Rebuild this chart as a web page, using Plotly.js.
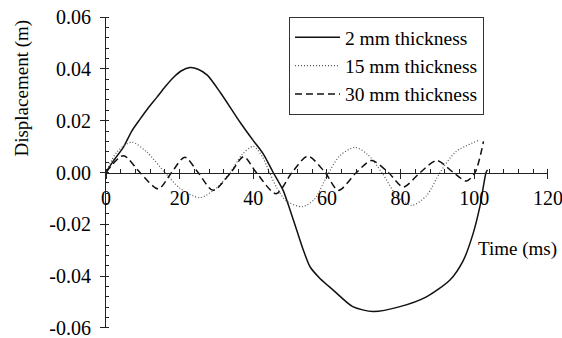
<!DOCTYPE html>
<html>
<head>
<meta charset="utf-8">
<script src="https://cdn.plot.ly/plotly-3.0.1.min.js"></script>
<style>html,body{margin:0;padding:0;background:#fff;}#chart{width:562px;height:338px;}</style>
</head>
<body>
<div id="chart"></div>
<script>
// 2 mm thickness
var t2 = [0, 2, 4.7, 7, 9.2, 11.5, 13.8, 16, 18.3, 20.5, 22.8, 25, 27.5, 31, 36.4, 40, 42.7, 45.4, 48.1, 50, 51.8, 53.6, 55.4, 58.1, 61.7, 67, 72.5, 79.8, 87, 93.4, 97, 99.7, 101.5, 103.2, 103.6];
var d2 = [0, 0.0045, 0.0097, 0.016, 0.0205, 0.025, 0.029, 0.033, 0.0367, 0.0393, 0.0405, 0.0399, 0.0376, 0.031, 0.0194, 0.0123, 0.0072, 0, -0.0069, -0.0146, -0.0223, -0.03, -0.0364, -0.0409, -0.0454, -0.0518, -0.0537, -0.0518, -0.048, -0.0415, -0.034, -0.0235, -0.0133, 0, 0.001];
// 15 mm thickness
var t15 = [0, 3, 7, 11, 16, 20, 25.5, 30, 33.7, 37, 40, 42.5, 44.4, 46.3, 49, 53.3, 56.5, 60.5, 63.5, 67.6, 71, 74.9, 79, 83, 87, 90.7, 95, 101];
var d15 = [0, 0.008, 0.0117, 0.008, 0, -0.006, -0.0097, -0.006, 0, 0.007, 0.0101, 0.006, 0, -0.0057, -0.011, -0.0132, -0.0105, 0, 0.0065, 0.0097, 0.007, 0, -0.009, -0.0127, -0.009, 0, 0.008, 0.0123];
// 30 mm thickness
var t30 = [0, 4.7, 9.2, 14.2, 17.8, 21.4, 25, 29.1, 33.9, 37.4, 40.8, 46.2, 50.5, 54.8, 59.5, 63.1, 68, 72.1, 76.7, 80.7, 85.3, 89.8, 94.3, 97.9, 100.2, 102.5];
var d30 = [0, 0.0065, 0, -0.0063, 0, 0.0059, 0, -0.0069, 0, 0.0061, 0, -0.0082, 0, 0.0063, 0, -0.0069, 0, 0.0046, 0, -0.0056, 0, 0.0046, 0, -0.0033, 0, 0.012];

var seriesNames = ['2 mm thickness', '15 mm thickness', '30 mm thickness'];
var xTickVals = [0, 20, 40, 60, 80, 100, 120];
var xTickText = ['0', '20', '40', '60', '80', '100', '120'];
var yTickVals = [-0.06, -0.04, -0.02, 0, 0.02, 0.04, 0.06];
var yTickText = ['-0.06', '-0.04', '-0.02', '0.00', '0.02', '0.04', '0.06'];

var FONT = 'Liberation Serif';

var traces = [
  {x: t2, y: d2, name: seriesNames[0], mode: 'lines', line: {color: '#111', width: 1.5, shape: 'spline', smoothing: 0.7}},
  {x: t15, y: d15, name: seriesNames[1], mode: 'lines', line: {color: '#555', width: 1.2, dash: '1px,2px', shape: 'spline', smoothing: 0.8}},
  {x: t30, y: d30, name: seriesNames[2], mode: 'lines', line: {color: '#111', width: 1.5, dash: '7px,4px', shape: 'spline', smoothing: 0.8}}
];

var layout = {
  width: 562, height: 338,
  margin: {l: 106, r: 14, t: 17, b: 10},
  paper_bgcolor: '#fff', plot_bgcolor: '#fff',
  font: {family: FONT, size: 19, color: '#000'},
  showlegend: true,
  legend: {x: 0.414, y: 1, xanchor: 'left', yanchor: 'top', bgcolor: '#fff', bordercolor: '#333', borderwidth: 1, itemwidth: 45, font: {family: FONT, size: 19.5, color: '#000'}, tracegroupgap: 0},
  xaxis: {
    range: [0, 120.02], anchor: 'free', position: 0.5,
    showgrid: false, zeroline: false, showline: true, linecolor: '#222', linewidth: 1,
    tickmode: 'array', tickvals: xTickVals, ticktext: xTickText,
    ticks: 'outside', ticklen: 5, tickcolor: '#222', tickwidth: 1,
    ticklabeloverflow: 'allow', ticklabelstandoff: 2,
    tickfont: {family: FONT, size: 20, color: '#000'},
    minor: {tickmode: 'linear', tick0: 0, dtick: 4, ticks: 'inside', ticklen: 4, tickcolor: '#222', tickwidth: 1, showgrid: false}
  },
  yaxis: {
    range: [-0.06005, 0.06005],
    showgrid: false, zeroline: false, showline: true, linecolor: '#222', linewidth: 1,
    tickmode: 'array', tickvals: yTickVals, ticktext: yTickText,
    ticks: 'outside', ticklen: 5, tickcolor: '#222', tickwidth: 1,
    ticklabeloverflow: 'allow', ticklabelstandoff: 5,
    tickfont: {family: FONT, size: 20, color: '#000'},
    minor: {tickmode: 'linear', tick0: 0, dtick: 0.004, ticks: 'inside', ticklen: 3, tickcolor: '#222', tickwidth: 1, showgrid: false}
  },
  annotations: [
    {text: 'Displacement (m)', xref: 'paper', yref: 'paper', x: -0.19, y: 0.77, xanchor: 'center', yanchor: 'middle', textangle: -90, showarrow: false, font: {family: FONT, size: 19, color: '#000'}},
    {text: 'Time (ms)', xref: 'paper', yref: 'paper', x: 1.024, y: 0.255, xanchor: 'right', yanchor: 'middle', showarrow: false, font: {family: FONT, size: 19, color: '#000'}}
  ]
};

Plotly.newPlot('chart', traces, layout, {displayModeBar: false, staticPlot: true});
</script>
</body>
</html>
